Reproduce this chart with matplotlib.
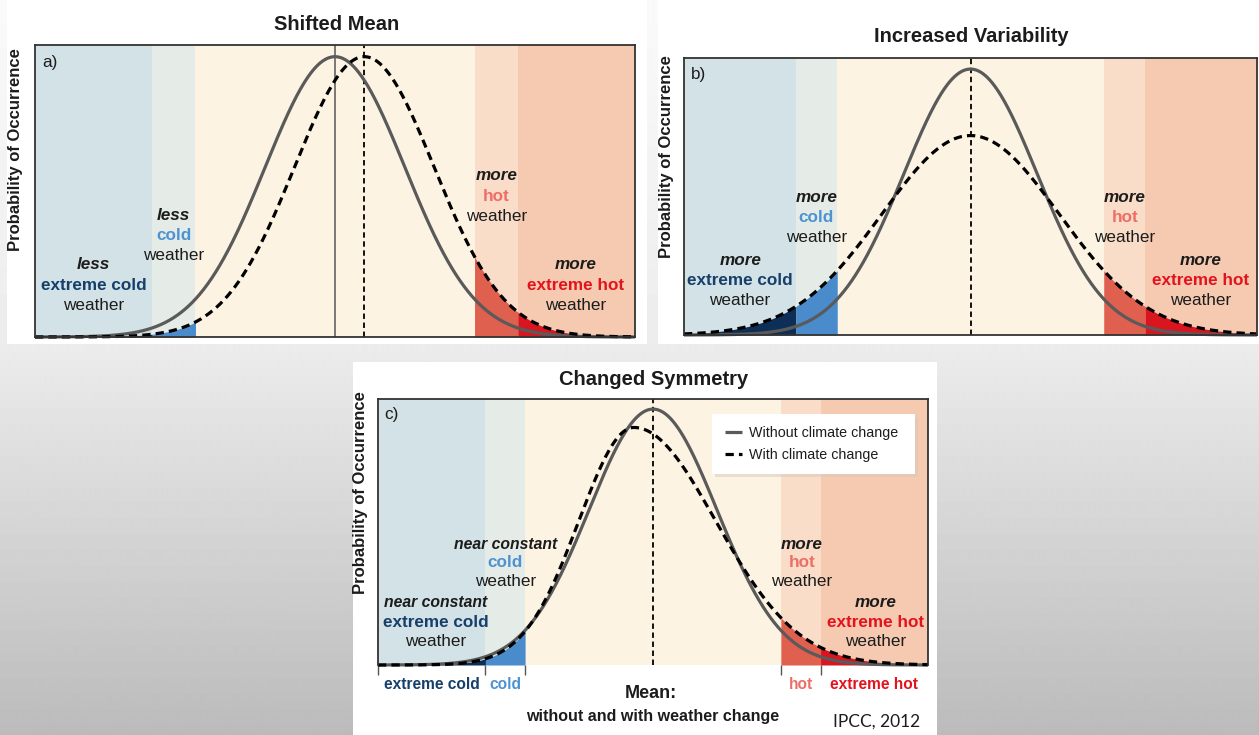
import numpy as np
import matplotlib
matplotlib.use("Agg")
import matplotlib.pyplot as plt
from matplotlib.patches import Rectangle

plt.rcParams['font.family'] = ['Liberation Sans', 'DejaVu Sans']

W, H = 1259, 735

# ---------------- data ----------------
x_range = (-4.3, 4.3)                       # temperature axis (in standard deviations)
thresholds = [-2.62, -2.0, 2.0, 2.62]        # extreme cold | cold | normal | hot | extreme hot
band_names = ["extreme cold", "cold", "normal", "hot", "extreme hot"]

# distribution parameters: mode, sd left, sd right, peak height
a_without = [0.0, 1.0, 1.0, 0.96]
a_with = [0.42, 1.0, 1.0, 0.96]
b_without = [0.0, 1.0, 1.0, 0.96]
b_with = [0.0, 1.33, 1.33, 0.72]
c_without = [0.0, 1.0, 1.0, 0.962]
c_with = [-0.30, 0.86, 1.28, 0.893]

titles = ["Shifted Mean", "Increased Variability", "Changed Symmetry"]
panel_tags = ["a)", "b)", "c)"]
a_words = ["less", "less", "more", "more"]
b_words = ["more", "more", "more", "more"]
c_words = ["near constant", "near constant", "more", "more"]
legend_labels = ["Without climate change", "With climate change"]
bottom_labels = ["extreme cold", "cold", "hot", "extreme hot"]

# ---------------- styles ----------------
band_bg = ["#d3e2e6", "#e5ebe7", "#fdf3e3", "#f9ddc8", "#f5cab1"]
fill_cols = ["#0d2e56", "#4a8bcb", None, "#e0604f", "#d9151f"]
text_cols = ["#163f69", "#4d93d2", None, "#ec6e66", "#e3131d"]
solid_col = "#5a5a5a"
dash_style = (0, (2.6, 1.6))


def curve(x, p):
    mode, sdl, sdr, peak = p
    sd = np.where(x < mode, sdl, sdr)
    return peak * np.exp(-0.5 * ((x - mode) / sd) ** 2)


fig = plt.figure(figsize=(W / 100, H / 100), dpi=100)

# background gradient
bg = fig.add_axes([0, 0, 1, 1], zorder=-10)
rows = np.arange(H)
shade = np.interp(rows, [0, 345, 735], [250, 236, 187]) / 255.0
img = np.repeat(shade[:, None], 4, axis=1)
bg.imshow(img, cmap="gray", vmin=0, vmax=1, aspect="auto", extent=[0, 1, 0, 1])
bg.set_axis_off()

# white cards (pixel coords: left, top, right, bottom)
for (l, t, r, b) in [(7, 0, 647, 344), (658, 0, 1259, 344), (353, 362, 937, 735)]:
    fig.patches.append(Rectangle((l / W, 1 - b / H), (r - l) / W, (b - t) / H,
                                 transform=fig.transFigure, facecolor="white",
                                 edgecolor="none", zorder=-5))


def px_axes(l, t, r, b):
    return fig.add_axes([l / W, 1 - b / H, (r - l) / W, (b - t) / H])


axes_boxes = [(35, 45, 635, 337), (684, 58, 1257, 335), (378, 399, 928, 665)]
params = [(a_without, a_with), (b_without, b_with), (c_without, c_with)]

FS = 12.3
TXT = "#1c1c1c"


def group(ax, x, ys, w1, w2, col, fs1=FS):
    ax.text(x, ys[0], w1, transform=ax.transAxes, ha="center", va="center",
            fontsize=fs1, fontweight="bold", style="italic", color=TXT)
    ax.text(x, ys[1], w2, transform=ax.transAxes, ha="center", va="center",
            fontsize=FS, fontweight="bold", color=col)
    ax.text(x, ys[2], "weather", transform=ax.transAxes, ha="center", va="center",
            fontsize=FS, color=TXT)


axs = []
for i, (box, (pw, pc)) in enumerate(zip(axes_boxes, params)):
    ax = px_axes(*box)
    axs.append(ax)
    x0, x1 = x_range
    ax.set_xlim(x0, x1)
    ax.set_ylim(0, 1)
    edges = [x0] + thresholds + [x1]
    for k in range(5):
        ax.axvspan(edges[k], edges[k + 1], color=band_bg[k], lw=0, zorder=0)
    xx = np.linspace(x0, x1, 1200)
    yw = curve(xx, pw)
    yc = curve(xx, pc)
    for k in range(5):
        if fill_cols[k] is None:
            continue
        xs = np.linspace(edges[k], edges[k + 1], 300)
        ax.fill_between(xs, 0, curve(xs, pc), color=fill_cols[k], lw=0, zorder=1)
    # mean lines
    if i == 0:
        ax.axvline(pw[0], color="#555555", lw=1.1, zorder=2)
        ax.axvline(pc[0], color="black", lw=1.3, ls=(0, (3, 2)), zorder=2)
    else:
        ax.axvline(pw[0], color="black", lw=1.3, ls=(0, (3, 2)), zorder=2)
    lw_line, = ax.plot(xx, yw, color=solid_col, lw=2.3, zorder=3, clip_on=False,
                       solid_capstyle="butt", label=legend_labels[0])
    ld_line, = ax.plot(xx, yc, color="black", lw=2.3, ls=dash_style, zorder=4,
                       clip_on=False, label=legend_labels[1])
    for s in ax.spines.values():
        s.set_color("#333333")
        s.set_linewidth(1.3)
        s.set_zorder(5)
    ax.set_yticks([])
    if i < 2:
        ax.set_xticks([])
    else:
        ax.set_xticks([x0] + thresholds)
        ax.set_xticklabels([])
        ax.tick_params(axis="x", length=7, width=1.0, color="#555555", direction="out")
        ax.spines["bottom"].set_visible(False)
    ax.text(0.012, 0.94, panel_tags[i], transform=ax.transAxes, ha="left", va="center",
            fontsize=FS, color=TXT)

    if i == 2:
        # legend box
        ax.add_patch(Rectangle((0.612, 0.708), 0.369, 0.226, transform=ax.transAxes,
                               facecolor="#d8c8bc", edgecolor="none", alpha=0.5, zorder=5))
        ax.add_patch(Rectangle((0.607, 0.718), 0.369, 0.226, transform=ax.transAxes,
                               facecolor="white", edgecolor="none", zorder=6))
        leg = ax.legend(handles=[lw_line, ld_line], loc="center left",
                        bbox_to_anchor=(0.607, 0.831), frameon=False, fontsize=10.3,
                        handlelength=1.2, handletextpad=0.5, labelspacing=0.6,
                        borderaxespad=0.0, borderpad=0.9)
        leg.set_zorder(7)
        for t in leg.get_texts():
            t.set_color(TXT)

# panel titles and y labels (pixel positions)
for (t, (px, py)) in zip(titles, [(337, 25), (971, 37), (654, 379)]):
    fig.text(px / W, 1 - py / H, t, ha="center", va="center", fontsize=14.5,
             fontweight="bold", color=TXT)
for (px, py) in [(16, 150), (667, 157), (361, 493)]:
    fig.text(px / W, 1 - py / H, "Probability of Occurrence", ha="center", va="center",
             rotation=90, fontsize=12, fontweight="bold", color=TXT)

# annotations in panels
ax = axs[0]
group(ax, 0.098, [0.248, 0.177, 0.107], a_words[0], band_names[0], text_cols[0])
group(ax, 0.231, [0.417, 0.349, 0.279], a_words[1], band_names[1], text_cols[1])
group(ax, 0.769, [0.554, 0.482, 0.414], a_words[2], band_names[3], text_cols[3])
group(ax, 0.901, [0.248, 0.177, 0.107], a_words[3], band_names[4], text_cols[4])

ax = axs[1]
group(ax, 0.098, [0.269, 0.196, 0.123], b_words[0], band_names[0], text_cols[0])
group(ax, 0.231, [0.496, 0.425, 0.353], b_words[1], band_names[1], text_cols[1])
group(ax, 0.769, [0.496, 0.425, 0.353], b_words[2], band_names[3], text_cols[3])
group(ax, 0.902, [0.269, 0.196, 0.123], b_words[3], band_names[4], text_cols[4])

ax = axs[2]
group(ax, 0.105, [0.235, 0.161, 0.088], c_words[0], band_names[0], text_cols[0], fs1=11.3)
group(ax, 0.2315, [0.454, 0.386, 0.314], c_words[1], band_names[1], text_cols[1], fs1=11.3)
group(ax, 0.771, [0.454, 0.386, 0.314], c_words[2], band_names[3], text_cols[3])
group(ax, 0.904, [0.235, 0.161, 0.088], c_words[3], band_names[4], text_cols[4])

# bottom labels for panel c
edges = [x_range[0]] + thresholds + [x_range[1]]
trans = matplotlib.transforms.blended_transform_factory(ax.transData, ax.transAxes)
for lab, k in zip(bottom_labels, [0, 1, 3, 4]):
    ax.text((edges[k] + edges[k + 1]) / 2, -0.075, lab, transform=trans, ha="center",
            va="center", fontsize=11.2, fontweight="bold", color=text_cols[k])
ax.text(0.497, -0.107, "Mean:", transform=ax.transAxes, ha="center", va="center",
        fontsize=13, fontweight="bold", color=TXT)
ax.text(0.5, -0.195, "without and with weather change", transform=ax.transAxes,
        ha="center", va="center", fontsize=11.5, fontweight="bold", color=TXT)
ax.text(0.986, -0.213, "IPCC, 2012", transform=ax.transAxes, ha="right", va="center",
        fontsize=12.5, color=TXT, family=["Lato", "DejaVu Sans"])

fig.savefig("out.png", dpi=100)
